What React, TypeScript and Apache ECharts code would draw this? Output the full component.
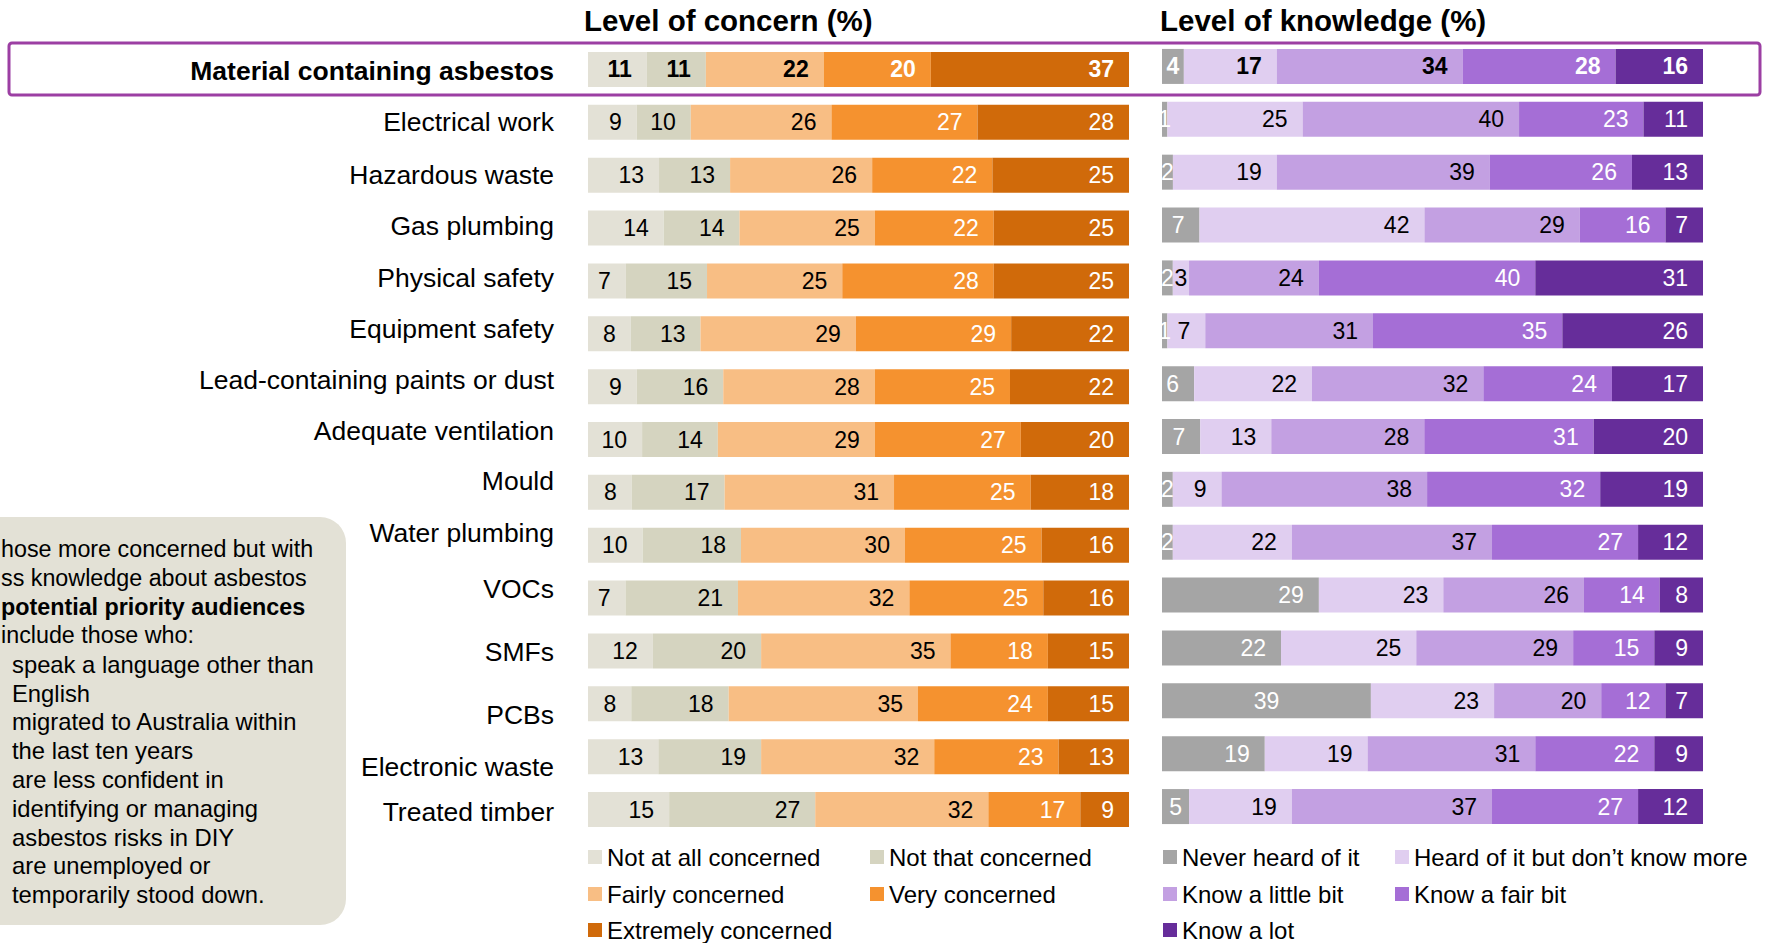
import React, { useEffect, useRef } from "react";
import * as echarts from "echarts";

const FONT = "'Liberation Sans', Arial, Helvetica, sans-serif";

// ---------- data ----------
const categories = [
  "Material containing asbestos",
  "Electrical work",
  "Hazardous waste",
  "Gas plumbing",
  "Physical safety",
  "Equipment safety",
  "Lead-containing paints or dust",
  "Adequate ventilation",
  "Mould",
  "Water plumbing",
  "VOCs",
  "SMFs",
  "PCBs",
  "Electronic waste",
  "Treated timber",
];

const concernNames = [
  "Not at all concerned",
  "Not that concerned",
  "Fairly concerned",
  "Very concerned",
  "Extremely concerned",
];
const notAtAllConcerned = [11, 9, 13, 14, 7, 8, 9, 10, 8, 10, 7, 12, 8, 13, 15];
const notThatConcerned = [11, 10, 13, 14, 15, 13, 16, 14, 17, 18, 21, 20, 18, 19, 27];
const fairlyConcerned = [22, 26, 26, 25, 25, 29, 28, 29, 31, 30, 32, 35, 35, 32, 32];
const veryConcerned = [20, 27, 22, 22, 28, 29, 25, 27, 25, 25, 25, 18, 24, 23, 17];
const extremelyConcerned = [37, 28, 25, 25, 25, 22, 22, 20, 18, 16, 16, 15, 15, 13, 9];

const knowledgeNames = [
  "Never heard of it",
  "Heard of it but don\u2019t know more",
  "Know a little bit",
  "Know a fair bit",
  "Know a lot",
];
const neverHeard = [4, 1, 2, 7, 2, 1, 6, 7, 2, 2, 29, 22, 39, 19, 5];
const heardNoMore = [17, 25, 19, 42, 3, 7, 22, 13, 9, 22, 23, 25, 23, 19, 19];
const knowLittle = [34, 40, 39, 29, 24, 31, 32, 28, 38, 37, 26, 29, 20, 31, 37];
const knowFair = [28, 23, 26, 16, 40, 35, 24, 31, 32, 27, 14, 15, 12, 22, 27];
const knowLot = [16, 11, 13, 7, 31, 26, 17, 20, 19, 12, 8, 9, 7, 9, 12];

const concernTitle = "Level of concern (%)";
const knowledgeTitle = "Level of knowledge (%)";

// the note box is cropped at the left edge in the original; these are its visible lines
const noteLines = [
  "hose more concerned but with",
  "ss knowledge about asbestos",
  "potential priority audiences",
  "include those who:",
  "speak a language other than",
  "English",
  "migrated to Australia within",
  "the last ten years",
  "are less confident in",
  "identifying or managing",
  "asbestos risks in DIY",
  "are unemployed or",
  "temporarily stood down.",
];

// ---------- styles ----------
const concernColors = ["#E3E1D6", "#D5D4C0", "#F8BE84", "#F5922F", "#D06A0A"];
const concernLabelColors = ["#000", "#000", "#000", "#fff", "#fff"];
const knowledgeColors = ["#A5A5A5", "#E0CEF0", "#C3A0E2", "#A56ED6", "#662D9A"];
const knowledgeLabelColors = ["#fff", "#000", "#000", "#fff", "#fff"];

// vertical nudge of the category labels (px), as laid out in the original slide
const labelShift = [2, 0, 0, -2, -3, -5, -7, -9, -11, -12, -9, 1, 11, 10, 2];
// labels that the original centers inside their segment: [seriesIndex, rowIndex]
const knowledgeCentered = [[0, 12]];

const GRID_W = 541;
const PX_PER_PCT = GRID_W / 100;

function buildSeries(
  names: string[],
  cols: number[][],
  colors: string[],
  labelColors: string[],
  axisIndex: number,
  stack: string,
  centered: number[][]
) {
  const sums = categories.map((_, r) => cols.reduce((a, c) => a + c[r], 0));
  return names.map((name, s) => ({
    type: "bar",
    name,
    stack,
    xAxisIndex: axisIndex,
    yAxisIndex: axisIndex,
    barWidth: 35,
    itemStyle: { color: colors[s] },
    emphasis: { disabled: true },
    label: {
      show: true,
      position: "insideRight",
      distance: 15,
      color: labelColors[s],
      fontSize: 23,
      fontFamily: FONT,
      formatter: (p: any) => String(p.data.raw),
    },
    data: cols[s].map((v, r) => {
      const pct = (v / sums[r]) * 100;
      const segPx = pct * PX_PER_PCT;
      const textW = String(v).length * 12.8;
      const lab: any = {};
      const isCentered = centered.some((c) => c[0] === s && c[1] === r);
      if (segPx < textW + 15 || isCentered) lab.position = "inside";
      if (r === 0) lab.fontWeight = "bold";
      return { value: pct, raw: v, label: lab };
    }),
  }));
}

export default function App() {
  const ref = useRef<HTMLDivElement>(null);

  useEffect(() => {
    if (!ref.current) return;
    const chart = echarts.init(ref.current, undefined, { renderer: "svg" });

    const concernCols = [notAtAllConcerned, notThatConcerned, fairlyConcerned, veryConcerned, extremelyConcerned];
    const knowledgeCols = [neverHeard, heardNoMore, knowLittle, knowFair, knowLot];

    const rich: any = {};
    categories.forEach((_, i) => {
      const s = labelShift[i];
      rich["r" + i] = {
        fontSize: 26.5,
        fontFamily: FONT,
        color: "#000",
        fontWeight: i === 0 ? "bold" : "normal",
        padding: s < 0 ? [0, 0, -2 * s, 0] : [2 * s, 0, 0, 0],
      };
    });

    const legendItem = (name: string, left: number, cy: number) => ({
      data: [name],
      left,
      top: cy - 12,
      padding: 0,
      itemWidth: 14,
      itemHeight: 14,
      icon: "rect",
      selectedMode: false,
      textStyle: { fontSize: 24, fontFamily: FONT, color: "#000", lineHeight: 24 },
    });

    const legends = [
      legendItem(concernNames[0], 588, 857),
      legendItem(concernNames[1], 870, 857),
      legendItem(concernNames[2], 588, 894),
      legendItem(concernNames[3], 870, 894),
      legendItem(concernNames[4], 588, 930),
      legendItem(knowledgeNames[0], 1163, 857),
      legendItem(knowledgeNames[1], 1395, 857),
      legendItem(knowledgeNames[2], 1163, 894),
      legendItem(knowledgeNames[3], 1395, 894),
      legendItem(knowledgeNames[4], 1163, 930),
    ];

    const noteTexts = noteLines.map((t, i) => ({
      type: "text",
      x: i < 4 ? 1 : 12,
      y: 549 + i * 28.8,
      z: 2,
      style: {
        text: t,
        fontSize: i < 4 ? 23.3 : 23.8,
        fontFamily: FONT,
        fontWeight: i === 2 ? "bold" : "normal",
        fill: "#000",
        textVerticalAlign: "middle",
        verticalAlign: "middle",
      },
    }));

    const option: any = {
      animation: false,
      backgroundColor: "#fff",
      textStyle: { fontFamily: FONT },
      legend: legends,
      grid: [
        { left: 588, top: 43, width: GRID_W, height: 793, containLabel: false },
        { left: 1162, top: 40, width: GRID_W, height: 793, containLabel: false },
      ],
      xAxis: [
        { type: "value", gridIndex: 0, min: 0, max: 100, show: false },
        { type: "value", gridIndex: 1, min: 0, max: 100, show: false },
      ],
      yAxis: [
        {
          type: "category",
          gridIndex: 0,
          inverse: true,
          data: categories,
          axisLine: { show: false },
          axisTick: { show: false },
          splitLine: { show: false },
          axisLabel: {
            margin: 34,
            rich,
            formatter: (v: string, i: number) => `{r${i}|${v}}`,
          },
        },
        {
          type: "category",
          gridIndex: 1,
          inverse: true,
          data: categories,
          show: false,
        },
      ],
      series: [
        ...buildSeries(concernNames, concernCols, concernColors, concernLabelColors, 0, "concern", []),
        ...buildSeries(knowledgeNames, knowledgeCols, knowledgeColors, knowledgeLabelColors, 1, "knowledge", knowledgeCentered),
      ],
      graphic: [
        {
          type: "text",
          x: 584,
          y: 20,
          style: {
            text: concernTitle,
            fontSize: 29.5,
            fontWeight: "bold",
            fontFamily: FONT,
            fill: "#000",
            textVerticalAlign: "middle",
            verticalAlign: "middle",
          },
        },
        {
          type: "text",
          x: 1160,
          y: 20,
          style: {
            text: knowledgeTitle,
            fontSize: 29.5,
            fontWeight: "bold",
            fontFamily: FONT,
            fill: "#000",
            textVerticalAlign: "middle",
            verticalAlign: "middle",
          },
        },
        {
          type: "rect",
          shape: { x: 9, y: 43, width: 1751, height: 52, r: 3 },
          style: { fill: "none", stroke: "#9C3FA3", lineWidth: 3 },
          z: 10,
        },
        {
          type: "rect",
          shape: { x: -30, y: 517, width: 376, height: 408, r: 26 },
          style: { fill: "#E3E1D6" },
          z: 1,
        },
        ...noteTexts,
      ],
    };

    chart.setOption(option);
    return () => chart.dispose();
  }, []);

  return (
    <div
      ref={ref}
      style={{ position: "absolute", left: 0, top: 0, width: 1769, height: 943, overflow: "hidden" }}
    />
  );
}
